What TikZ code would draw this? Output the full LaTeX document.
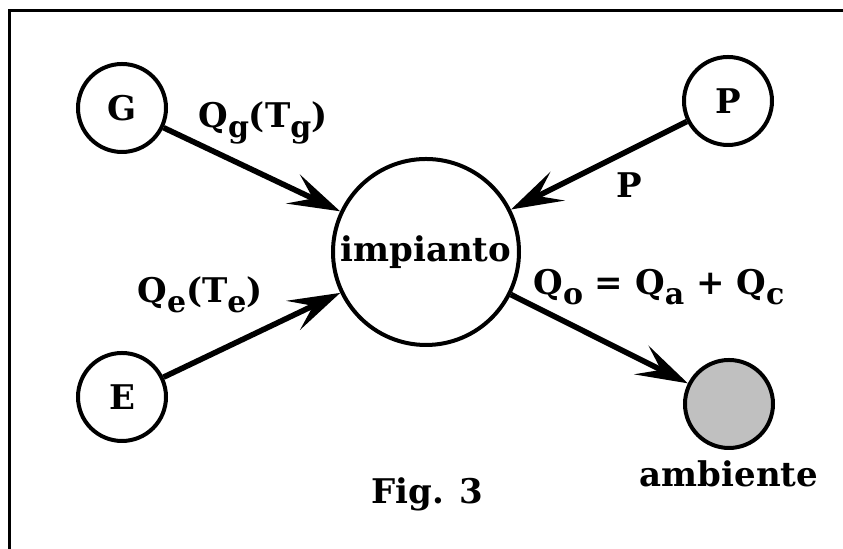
\documentclass[tikz,border=0pt]{standalone}
\usepackage{fontspec}
\setmainfont{DejaVu Serif}
\usetikzlibrary{arrows.meta,positioning}
\definecolor{ambgray}{RGB}{192, 192, 192}
\newcommand{\lowidx}[1]{\raisebox{-5pt}{\fontsize{15}{15}\selectfont #1}}

\begin{document}
\begin{tikzpicture}[x=0.5pt, y=0.5pt,
        every node/.style={font=\fontsize{17}{20}\selectfont\bfseries},
        port/.style={circle, draw, line width=2pt, minimum size=44pt, inner sep=0pt},
        flow/.style={-{Stealth[length=26pt, width=16pt, inset=11pt]}, line width=2.8pt},
        lbl/.style={anchor=base west, inner sep=0pt}
    ]
        \useasboundingbox (0,0) rectangle (843,549);
        \draw[line width=1.5pt] (9,0) |- (843,538);

        % sources, plant and environment
        \node (g) [port] at (122,441) {G};
        \node (p) [port] at (728,448) {P};
        \node (e) [port] at (122,152) {E};
        \node (imp) [port, minimum size=93pt] at (426,297) {impianto};
        \node (amb) [port, fill=ambgray] at (729,145) {};
        \node (ambl) [below=2pt of amb] {ambiente};

        % flow labels
        \node (qg) [lbl] at (198,421) {Q\lowidx{g}(T\lowidx{g})};
        \node (pw) [lbl] at (616,351) {P};
        \node (qe) [lbl] at (137,246) {Q\lowidx{e}(T\lowidx{e})};
        \node (qo) [lbl] at (533,254) {Q\lowidx{o} = Q\lowidx{a} + Q\lowidx{c}};
        \node (fig) [lbl] at (371,45) {Fig. 3};

        \draw[flow] (g) -- (imp);
        \draw[flow] (p) -- (imp);
        \draw[flow] (e) -- (imp);
        \draw[flow] (imp) -- (amb);
    \end{tikzpicture}
\end{document}
